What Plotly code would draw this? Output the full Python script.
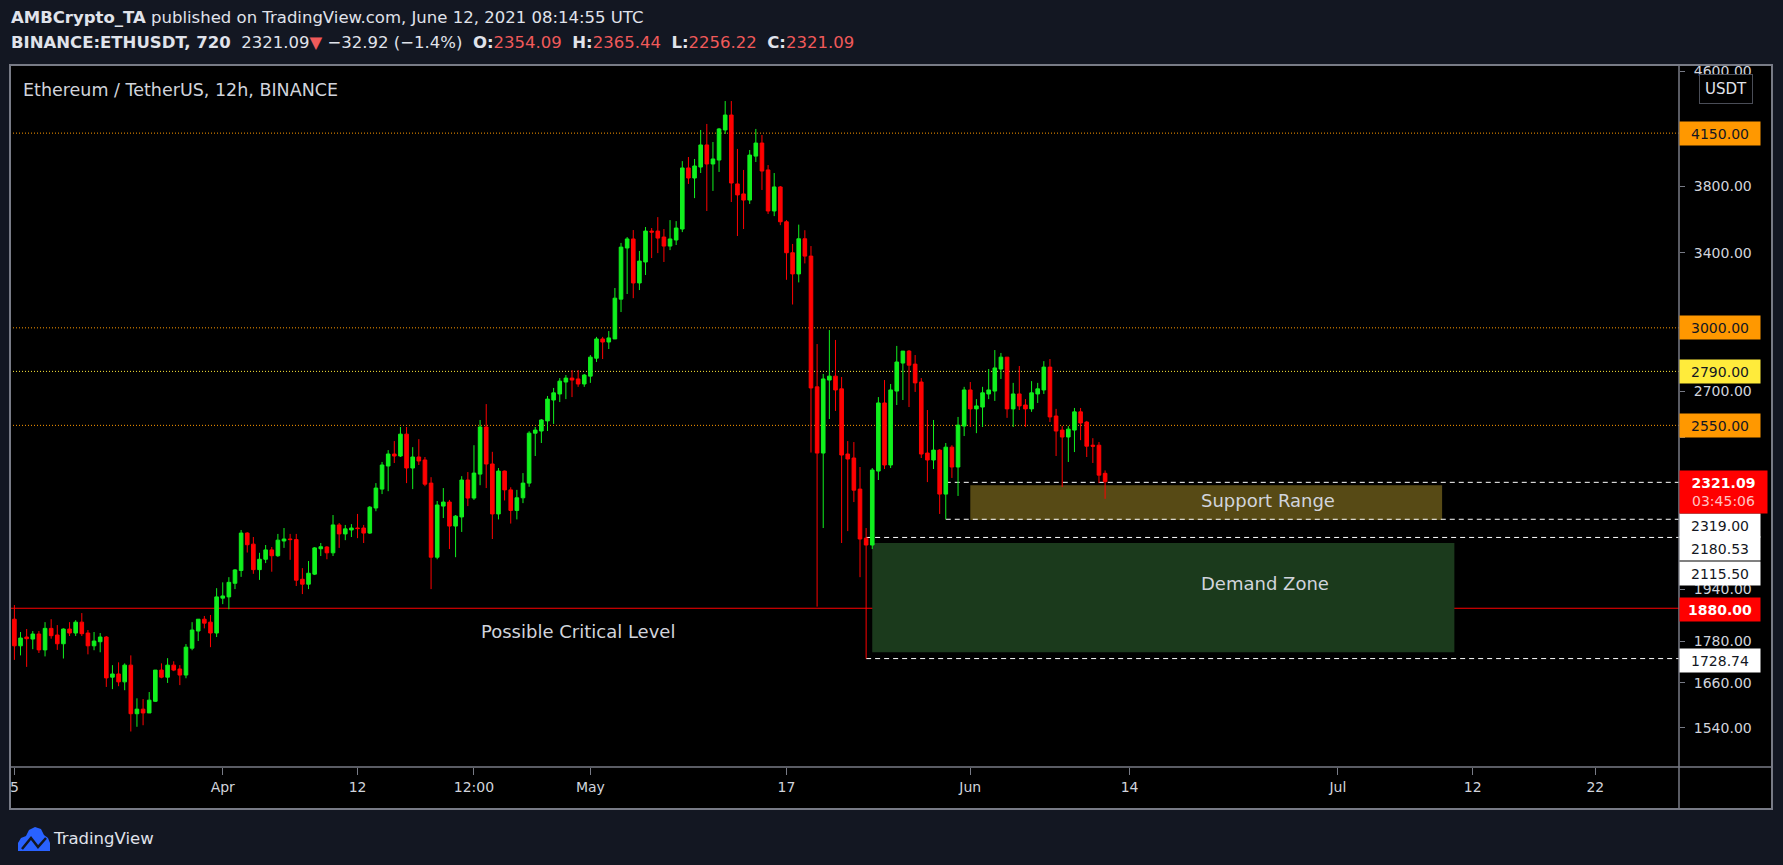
import math
import pandas as pd
import plotly.graph_objects as go

# ---------------- data (ETHUSDT 12h) ----------------
first_bar = "2021-03-15 00:00"
opens = [1846, 1766, 1792, 1786, 1801, 1754, 1818, 1798, 1772, 1816,
         1804, 1837, 1804, 1766, 1778, 1792, 1676, 1685, 1663, 1710,
         1577, 1589, 1579, 1610, 1696, 1676, 1710, 1699, 1682, 1759,
         1810, 1846, 1837, 1804, 1912, 1916, 1960, 2002, 2131, 2092,
         2005, 2040, 2072, 2052, 2103, 2110, 2108, 1973, 1957, 1990,
         2076, 2082, 2062, 2160, 2128, 2142, 2149, 2149, 2131, 2222,
         2293, 2383, 2431, 2423, 2513, 2375, 2419, 2407, 2316, 2047,
         2229, 2244, 2156, 2189, 2328, 2259, 2351, 2543, 2391, 2200,
         2363, 2290, 2213, 2260, 2316, 2517, 2526, 2569, 2660, 2687,
         2741, 2759, 2755, 2732, 2768, 2852, 2945, 2930, 2945, 3147,
         3427, 3479, 3233, 3348, 3525, 3525, 3490, 3438, 3473, 3537,
         3916, 3851, 3922, 4069, 3942, 3968, 4172, 4277, 3813, 3750,
         3712, 3994, 4082, 3903, 3645, 3794, 3580, 3400, 3282, 3480,
         3381, 2719, 2435, 2750, 2768, 2710, 2431, 2415, 2293, 2113,
         2089, 2363, 2647, 2387, 2700, 2829, 2886, 2824, 2741, 2435,
         2407, 2447, 2274, 2459, 2379, 2547, 2705, 2621, 2629, 2687,
         2700, 2801, 2857, 2621, 2687, 2638, 2621, 2687, 2705, 2810,
         2590, 2530, 2501, 2530, 2608, 2564, 2467, 2467, 2354.09]
highs = [1890, 1807, 1816, 1810, 1810, 1837, 1846, 1828, 1818, 1837,
         1843, 1865, 1813, 1807, 1804, 1795, 1710, 1718, 1715, 1738,
         1618, 1616, 1635, 1696, 1715, 1730, 1721, 1710, 1771, 1837,
         1846, 1856, 1859, 1944, 1963, 1980, 2007, 2142, 2134, 2117,
         2062, 2089, 2082, 2128, 2149, 2128, 2128, 2010, 2034, 2082,
         2096, 2085, 2196, 2167, 2160, 2163, 2200, 2160, 2229, 2316,
         2399, 2447, 2484, 2543, 2543, 2459, 2492, 2419, 2339, 2248,
         2297, 2252, 2196, 2343, 2359, 2467, 2573, 2642, 2440, 2375,
         2365, 2300, 2290, 2355, 2525, 2543, 2577, 2678, 2714, 2759,
         2773, 2796, 2796, 2778, 2867, 2955, 2955, 2984, 3206, 3456,
         3490, 3531, 3410, 3549, 3543, 3608, 3537, 3590, 3584, 3961,
         3988, 3975, 4172, 4214, 4089, 4186, 4378, 4378, 4042, 3903,
         4035, 4179, 4137, 3935, 3883, 3800, 3590, 3450, 3563, 3530,
         3438, 2920, 2778, 2989, 2940, 2764, 2484, 2480, 2379, 2149,
         2375, 2673, 2750, 2732, 2911, 2886, 2891, 2867, 2759, 2616,
         2573, 2451, 2476, 2467, 2586, 2719, 2741, 2664, 2719, 2801,
         2891, 2877, 2857, 2737, 2815, 2664, 2745, 2737, 2838, 2848,
         2621, 2547, 2547, 2625, 2625, 2569, 2496, 2480, 2365.44]
lows = [1725, 1738, 1705, 1756, 1745, 1735, 1787, 1754, 1729, 1795,
        1795, 1795, 1741, 1753, 1747, 1649, 1643, 1651, 1640, 1531,
        1543, 1547, 1579, 1608, 1673, 1660, 1693, 1654, 1673, 1753,
        1780, 1818, 1762, 1792, 1893, 1877, 1941, 1981, 2063, 1991,
        1971, 2027, 1998, 2048, 2079, 2038, 1951, 1925, 1941, 1987,
        2051, 2040, 2051, 2079, 2106, 2117, 2113, 2096, 2128, 2210,
        2274, 2285, 2395, 2419, 2316, 2293, 2387, 2304, 1941, 2040,
        2185, 2075, 2047, 2135, 2229, 2252, 2308, 2297, 2110, 2180,
        2250, 2165, 2180, 2240, 2302, 2423, 2476, 2526, 2556, 2651,
        2664, 2673, 2719, 2719, 2737, 2834, 2848, 2896, 2945, 3080,
        3174, 3152, 3195, 3276, 3370, 3398, 3348, 3415, 3444, 3519,
        3813, 3724, 3883, 3645, 3769, 3890, 4144, 3700, 3496, 3537,
        3688, 3955, 3775, 3627, 3614, 3560, 3250, 3119, 3236, 3340,
        2437, 1885, 2149, 2577, 2612, 2096, 2138, 2244, 1980, 1728.74,
        2075, 2328, 2371, 2375, 2638, 2660, 2629, 2696, 2415, 2320,
        2371, 2200, 2180.53, 2336, 2267, 2505, 2543, 2517, 2543, 2664,
        2656, 2755, 2582, 2543, 2616, 2543, 2608, 2647, 2687, 2564,
        2423, 2301, 2399, 2439, 2488, 2419, 2395, 2316, 2256.22]
closes = [1766, 1789, 1787, 1801, 1754, 1818, 1796, 1772, 1816, 1804,
          1837, 1802, 1766, 1780, 1792, 1674, 1685, 1663, 1710, 1577,
          1589, 1579, 1613, 1696, 1676, 1710, 1696, 1682, 1762, 1813,
          1846, 1834, 1804, 1916, 1919, 1963, 2004, 2131, 2090, 2005,
          2040, 2072, 2052, 2106, 2110, 2108, 1970, 1957, 1993, 2079,
          2083, 2062, 2160, 2128, 2146, 2149, 2147, 2131, 2225, 2297,
          2387, 2431, 2423, 2513, 2375, 2419, 2403, 2312, 2047, 2233,
          2244, 2156, 2192, 2328, 2259, 2355, 2543, 2391, 2200, 2363,
          2290, 2213, 2260, 2316, 2517, 2530, 2573, 2664, 2692, 2745,
          2759, 2750, 2732, 2773, 2857, 2945, 2930, 2950, 3152, 3432,
          3479, 3233, 3353, 3525, 3519, 3484, 3438, 3479, 3543, 3916,
          3851, 3929, 4069, 3942, 3975, 4179, 4277, 3819, 3744, 3712,
          4001, 4082, 3896, 3645, 3794, 3580, 3400, 3282, 3480, 3381,
          2714, 2435, 2755, 2768, 2705, 2427, 2411, 2289, 2110, 2089,
          2367, 2647, 2387, 2705, 2834, 2886, 2819, 2737, 2431, 2407,
          2447, 2274, 2459, 2379, 2551, 2705, 2621, 2634, 2692, 2705,
          2806, 2857, 2621, 2687, 2634, 2621, 2692, 2710, 2810, 2586,
          2526, 2501, 2534, 2608, 2560, 2463, 2463, 2347, 2321.09]

x_tick_dates = ["2021-03-15", "2021-04-01", "2021-04-12", "2021-04-21 12:00",
                "2021-05-01", "2021-05-17", "2021-06-01", "2021-06-14",
                "2021-07-01", "2021-07-12", "2021-07-22"]
x_tick_text = ["5", "Apr", "12", "12:00", "May", "17", "Jun", "14", "Jul", "12", "22"]
y_tick_vals = [4600, 4200, 3800, 3400, 3000, 2700, 2500, 1940, 1780, 1660, 1540]
y_hidden_ticks = [4200, 2500]   # covered by the 4150 / 2550 level labels

orange_levels = [4150, 3000, 2550]
yellow_levels = [2790]
critical_level = 1880
support_levels = [2319.00, 2180.53]
demand_levels = [2115.50, 1728.74]
support_box = [2178, 2308]
demand_box = [1747, 2096]
last_close = 2321.09

times = pd.date_range(first_bar, periods=len(opens), freq="12h")

# ---------------- geometry helpers (pixel -> paper) ----------------
W, H = 1783, 865
L, R, T, B = 10, 1679, 65, 767
def px(x):
    return (x - L) / (R - L)
def py(y):
    return (B - y) / (B - T)

X_START = "2021-03-14 15:23"
X_END = "2021-07-28 19:55"

GREEN = "#10F01E"
RED = "#FF0000"
ORANGE = "#FF9800"
YELLOW = "#FFEB3B"
FRAME = "#787B86"
TXT = "#D1D4DC"
FONT = "DejaVu Sans"

fig = go.Figure()
fig.add_trace(go.Candlestick(
    x=times, open=opens, high=highs, low=lows, close=closes,
    increasing=dict(line=dict(color=GREEN, width=1), fillcolor=GREEN),
    decreasing=dict(line=dict(color=RED, width=1), fillcolor=RED),
    whiskerwidth=0, showlegend=False, hoverinfo="skip",
))

shapes = []
# black panels for axes
shapes.append(dict(type="rect", xref="paper", yref="paper", x0=1, x1=px(1772),
                   y0=py(809), y1=1, fillcolor="#000000", line_width=0, layer="below"))
shapes.append(dict(type="rect", xref="paper", yref="paper", x0=0, x1=1,
                   y0=py(809), y1=0, fillcolor="#000000", line_width=0, layer="below"))
# zones
shapes.append(dict(type="rect", xref="x", yref="y", x0=times[140], x1="2021-07-10 12:00",
                   y0=demand_box[0], y1=demand_box[1], fillcolor="#1B3A1C",
                   line_width=0, layer="below"))
shapes.append(dict(type="rect", xref="x", yref="y", x0="2021-06-01 00:00", x1="2021-07-09 12:00",
                   y0=support_box[0], y1=support_box[1], fillcolor="#574A15",
                   line_width=0, layer="below"))
# level lines
for lv in orange_levels:
    shapes.append(dict(type="line", xref="paper", yref="y", x0=0, x1=1, y0=lv, y1=lv,
                       line=dict(color=ORANGE, width=1, dash="1px,2px"), layer="below"))
for lv in yellow_levels:
    shapes.append(dict(type="line", xref="paper", yref="y", x0=0, x1=1, y0=lv, y1=lv,
                       line=dict(color=YELLOW, width=1, dash="1px,2px"), layer="below"))
shapes.append(dict(type="line", xref="paper", yref="y", x0=0, x1=1,
                   y0=critical_level, y1=critical_level,
                   line=dict(color=RED, width=1.2), layer="below"))
for lv in support_levels:
    shapes.append(dict(type="line", xref="x", yref="y", x0=times[152], x1=X_END, y0=lv, y1=lv,
                       line=dict(color="#FFFFFF", width=1, dash="5px,4px"), layer="below"))
for lv in demand_levels:
    shapes.append(dict(type="line", xref="x", yref="y", x0=times[139], x1=X_END, y0=lv, y1=lv,
                       line=dict(color="#FFFFFF", width=1, dash="5px,4px"), layer="below"))
# frame
shapes.append(dict(type="rect", xref="paper", yref="paper", x0=px(10), x1=px(1772),
                   y0=py(809), y1=py(65), line=dict(color=FRAME, width=2), layer="above"))
shapes.append(dict(type="line", xref="paper", yref="paper", x0=1, x1=1, y0=py(809), y1=1,
                   line=dict(color=FRAME, width=1.5), layer="above"))
shapes.append(dict(type="line", xref="paper", yref="paper", x0=0, x1=px(1772), y0=0, y1=0,
                   line=dict(color=FRAME, width=1.5), layer="above"))
# TradingView logo (cloud)
def pth(points):
    s = ""
    for cmd, x, y in points:
        s += f"{cmd} {px(x):.5f},{py(y):.5f} "
    return s + "Z"
cloud = pth([("M", 18, 851), ("L", 18, 843), ("L", 21, 838), ("L", 26, 836), ("L", 29, 830),
             ("L", 35, 827), ("L", 41, 829), ("L", 44, 835), ("L", 48, 838), ("L", 50, 843),
             ("L", 50, 851)])
shapes.append(dict(type="path", xref="paper", yref="paper", path=cloud,
                   fillcolor="#2962FF", line_width=0, layer="above"))
zig = f"M {px(22):.5f},{py(849):.5f} L {px(31):.5f},{py(838):.5f} L {px(38):.5f},{py(847):.5f} L {px(46):.5f},{py(838):.5f}"
shapes.append(dict(type="path", xref="paper", yref="paper", path=zig,
                   line=dict(color="#131722", width=2.5), layer="above"))

annotations = []
def label(val, text, bg, fg, yshift=0, bold=False):
    t = f"<b>{text}</b>" if bold else text
    annotations.append(dict(xref="paper", yref="y", x=1, y=math.log10(val), xanchor="left",
                            yanchor="middle", yshift=yshift, text=t, showarrow=False,
                            bgcolor=bg, font=dict(family=FONT, size=14, color=fg),
                            width=74, height=17, borderpad=3, align="center"))

label(4150, "4150.00", ORANGE, "#131722")
label(3000, "3000.00", ORANGE, "#131722")
label(2790, "2790.00", YELLOW, "#131722")
label(2550, "2550.00", ORANGE, "#131722")
label(support_levels[0], "2319.00", "#FFFFFF", "#131722", yshift=-43)
label(support_levels[1], "2180.53", "#FFFFFF", "#131722", yshift=-29)
label(demand_levels[0], "2115.50", "#FFFFFF", "#131722", yshift=-36.5)
label(critical_level, "1880.00", RED, "#FFFFFF", yshift=-1, bold=True)
label(demand_levels[1], "1728.74", "#FFFFFF", "#131722", yshift=-1.5)
annotations.append(dict(xref="paper", yref="y", x=1, y=math.log10(last_close), xanchor="left",
                        yanchor="top", yshift=11.5, showarrow=False,
                        text="<b>2321.09</b><br><span style='color:#FFC2C2'>03:45:06</span>",
                        bgcolor=RED, font=dict(family=FONT, size=14, color="#FFFFFF"),
                        width=81, height=36, borderpad=3, align="center"))
# USDT badge
annotations.append(dict(xref="paper", yref="paper", x=px(1726), y=py(88.5), text="USDT",
                        xanchor="center", yanchor="middle",
                        showarrow=False, font=dict(family=FONT, size=15, color="#E0E3EB"),
                        bordercolor="#4A4D57", borderwidth=1, borderpad=5, bgcolor="#000000"))
# header
RN = "#F05A5A"
SP = "&nbsp;"
annotations.append(dict(xref="paper", yref="paper", x=px(9), y=py(18), xanchor="left",
                        yanchor="middle", showarrow=False,
                        text="<b>AMBCrypto_TA</b> published on TradingView.com, June 12, 2021 08:14:55 UTC",
                        font=dict(family=FONT, size=16.5, color="#E0E3EB")))
annotations.append(dict(xref="paper", yref="paper", x=px(9), y=py(43), xanchor="left",
                        yanchor="middle", showarrow=False,
                        text=(f"<b>BINANCE:ETHUSDT, 720</b>{SP}{SP}2321.09<span style='color:{RN}'>▼</span>{SP}"
                              f"−32.92 (−1.4%){SP}{SP}<b>O:</b><span style='color:{RN}'>2354.09</span>{SP}{SP}"
                              f"<b>H:</b><span style='color:{RN}'>2365.44</span>{SP}{SP}"
                              f"<b>L:</b><span style='color:{RN}'>2256.22</span>{SP}{SP}"
                              f"<b>C:</b><span style='color:{RN}'>2321.09</span>"),
                        font=dict(family=FONT, size=16.5, color="#E0E3EB")))
annotations.append(dict(xref="paper", yref="paper", x=px(21), y=py(90), xanchor="left",
                        yanchor="middle", showarrow=False,
                        text="Ethereum / TetherUS, 12h, BINANCE",
                        font=dict(family=FONT, size=17.5, color=TXT)))
annotations.append(dict(xref="paper", yref="paper", x=px(1268), y=py(501), showarrow=False,
                        xanchor="center", yanchor="middle",
                        text="Support Range", font=dict(family=FONT, size=18, color=TXT)))
annotations.append(dict(xref="paper", yref="paper", x=px(1265), y=py(583), showarrow=False,
                        xanchor="center", yanchor="middle",
                        text="Demand Zone", font=dict(family=FONT, size=18, color=TXT)))
annotations.append(dict(xref="paper", yref="paper", x=px(578), y=py(631), showarrow=False,
                        xanchor="center", yanchor="middle",
                        text="Possible Critical Level", font=dict(family=FONT, size=18, color=TXT)))
annotations.append(dict(xref="paper", yref="paper", x=px(51), y=py(838), xanchor="left",
                        yanchor="middle", showarrow=False, text="TradingView",
                        font=dict(family=FONT, size=16.5, color="#E0E3EB")))

fig.update_layout(
    width=W, height=H,
    margin=dict(l=L, r=W - R, t=T, b=H - B, pad=0),
    paper_bgcolor="#131722", plot_bgcolor="#000000",
    showlegend=False, boxgap=0.16,
    shapes=shapes, annotations=annotations,
    xaxis=dict(type="date", range=[X_START, X_END], rangeslider=dict(visible=False),
               showgrid=False, zeroline=False, showline=False,
               tickmode="array", tickvals=x_tick_dates, ticktext=x_tick_text,
               ticks="outside", ticklen=7, tickcolor=FRAME, tickwidth=1,
               tickfont=dict(family=FONT, size=14, color=TXT), fixedrange=True),
    yaxis=dict(type="log", side="right", range=[math.log10(1443), math.log10(4649)],
               showgrid=False, zeroline=False, showline=False,
               tickmode="array", tickvals=y_tick_vals,
               ticktext=["" if v in y_hidden_ticks else f"{v:.2f}" for v in y_tick_vals],
               ticks="outside", ticklen=5, tickcolor=FRAME, tickwidth=1,
               ticklabelstandoff=6,
               tickfont=dict(family=FONT, size=14, color=TXT), fixedrange=True),
)

fig.write_html("out.html", config={"displayModeBar": False},
               post_script="document.body.style.margin='0';document.body.style.background='#131722';")
